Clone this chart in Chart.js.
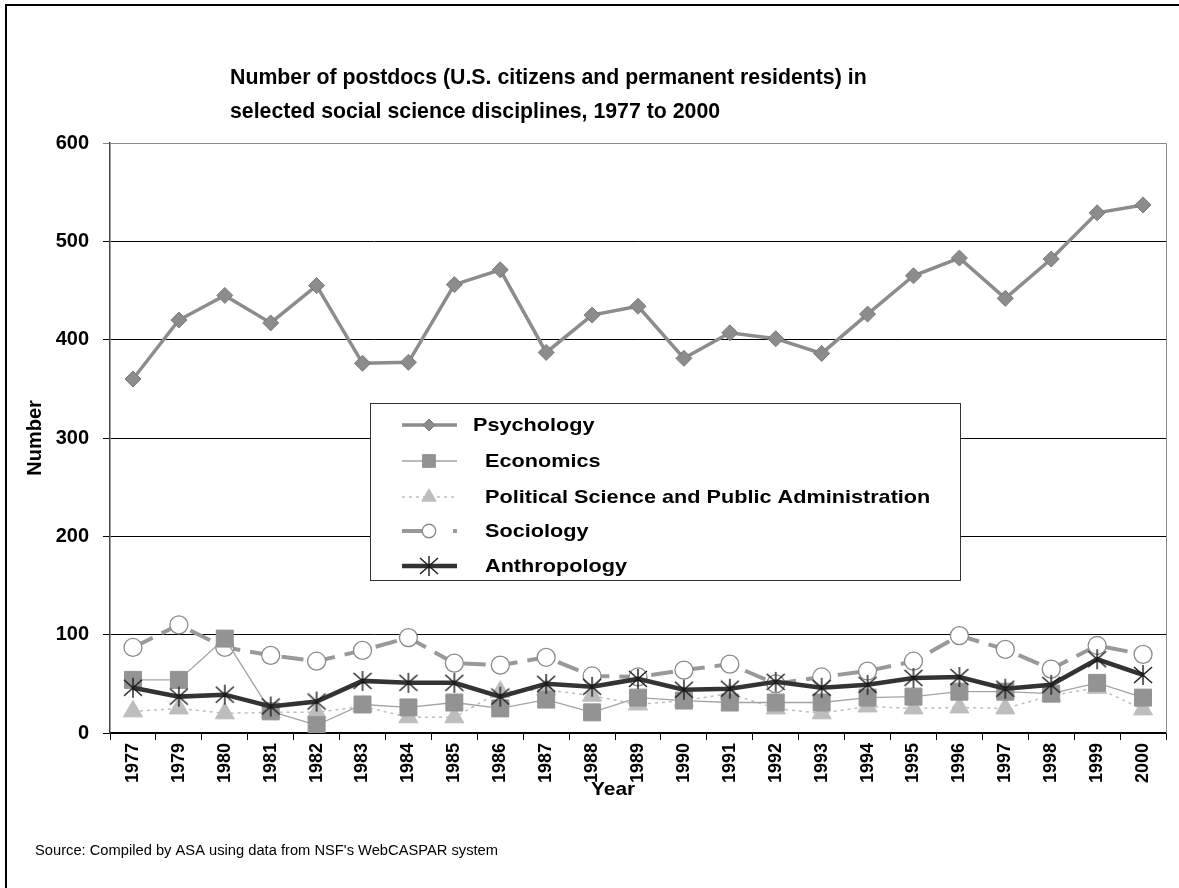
<!DOCTYPE html>
<html>
<head>
<meta charset="utf-8">
<script src="https://cdn.jsdelivr.net/npm/chart.js@4.4.0/dist/chart.umd.min.js"></script>
<style>
  body { margin: 0; background: #fff; }
  #wrap { width: 1179px; height: 888px; position: relative; }
</style>
</head>
<body>
<div id="wrap"><canvas id="chart" width="1179" height="888"></canvas></div>
<script>
// data
const years = ['1977', '1979', '1980', '1981', '1982', '1983', '1984', '1985', '1986', '1987', '1988', '1989',
               '1990', '1991', '1992', '1993', '1994', '1995', '1996', '1997', '1998', '1999', '2000'];
const psychology = [360, 420, 445, 417, 455, 376, 377, 456, 471, 387, 425, 434, 381, 407, 401, 386, 426, 465, 483, 442, 482, 529, 537];
const economics = [54, 54, 96, 22, 8, 29, 26, 31, 25, 34, 21, 36, 33, 31, 31, 31, 36, 37, 42, 42, 40, 51, 36];
const polisci = [22, 25, 20, 21, 21, 27, 16, 16, 42, 44, 38, 29, 33, 40, 25, 20, 27, 25, 26, 25, 38, 46, 24];
const sociology = [87, 110, 87, 79, 73, 84, 97, 71, 69, 77, 58, 57, 64, 70, 50, 57, 63, 73, 99, 85, 65, 89, 80];
const anthropology = [46, 37, 39, 27, 32, 53, 51, 51, 37, 50, 47, 55, 44, 45, 52, 46, 49, 56, 57, 45, 49, 75, 59];
const yTicks = [0, 100, 200, 300, 400, 500, 600];

const FONT = '"Liberation Sans", Arial, sans-serif';

// asterisk marker like the Excel one
const star = document.createElement('canvas');
star.width = 22; star.height = 22;
(function () {
    const c = star.getContext('2d');
    c.strokeStyle = '#1a1a1a';
    c.lineWidth = 1.4;
    c.beginPath();
    c.moveTo(11, 1); c.lineTo(11, 21);
    c.moveTo(2, 3); c.lineTo(20, 19);
    c.moveTo(20, 3); c.lineTo(2, 19);
    c.stroke();
})();

// text a bit wider than the font, as in the original export
function wideText(ctx, txt, x, y, sx) {
    ctx.save();
    ctx.translate(x, y);
    ctx.scale(sx, 1);
    ctx.fillText(txt, 0, 0);
    ctx.restore();
}

// title, source, axis title, outer frame and the boxed legend
const decor = {
    id: 'decor',
    afterDraw(chart) {
        const ctx = chart.ctx;
        const area = chart.chartArea;
        ctx.save();
        // frame
        ctx.strokeStyle = '#000';
        ctx.lineWidth = 2;
        ctx.strokeRect(6, 5, 1190, 900);
        // plot border (top + right, grey)
        ctx.strokeStyle = '#8a8a8a';
        ctx.lineWidth = 1;
        ctx.beginPath();
        ctx.moveTo(area.left, area.top + 0.5);
        ctx.lineTo(area.right + 0.5, area.top + 0.5);
        ctx.lineTo(area.right + 0.5, area.bottom);
        ctx.stroke();

        ctx.fillStyle = '#000';
        ctx.textAlign = 'left';
        ctx.textBaseline = 'alphabetic';
        ctx.font = 'bold 21.3px ' + FONT;
        ctx.fillText('Number of postdocs (U.S. citizens and permanent residents) in', 230, 84);
        ctx.fillText('selected social science disciplines, 1977 to 2000', 230, 118);

        ctx.font = 'bold 19px ' + FONT;
        ctx.textBaseline = 'middle';
        wideText(ctx, 'Year', 591, 790, 1.1);

        ctx.font = '14px ' + FONT;
        wideText(ctx, "Source: Compiled by ASA using data from NSF's WebCASPAR system", 35, 851, 1.05);

        // legend
        const lx = 370.5, ly = 403.5, lw = 590, lh = 177;
        ctx.fillStyle = '#fff';
        ctx.fillRect(lx, ly, lw, lh);
        ctx.strokeStyle = '#333';
        ctx.lineWidth = 1;
        ctx.strokeRect(lx, ly, lw, lh);
        const rows = [425, 461, 497, 531, 566];
        const textX = [473, 485, 485, 485, 485];
        chart.data.datasets.forEach((ds, i) => {
            const y = rows[i];
            ctx.save();
            ctx.strokeStyle = ds.borderColor;
            ctx.lineWidth = ds.borderWidth;
            ctx.setLineDash(ds.borderDash || []);
            ctx.beginPath();
            if (ds.label === 'Sociology') {
                ctx.moveTo(402, y); ctx.lineTo(425, y);
                ctx.moveTo(453, y); ctx.lineTo(457, y);
            } else {
                ctx.moveTo(402, y); ctx.lineTo(457, y);
            }
            ctx.stroke();
            ctx.restore();
            ctx.save();
            ctx.fillStyle = ds.pointBackgroundColor;
            ctx.strokeStyle = ds.pointBorderColor;
            ctx.lineWidth = ds.pointBorderWidth;
            Chart.helpers.drawPoint(ctx, {
                pointStyle: ds.pointStyle,
                radius: ds.pointRadius * 0.75,
                rotation: 0,
                borderWidth: ds.pointBorderWidth
            }, 429, y);
            ctx.restore();
            ctx.fillStyle = '#000';
            ctx.font = 'bold 19px ' + FONT;
            ctx.textBaseline = 'middle';
            wideText(ctx, ds.label, textX[i], y + 1, 1.14);
        });
        ctx.restore();
    }
};

new Chart(document.getElementById('chart'), {
    type: 'line',
    data: {
        labels: years,
        datasets: [{
            label: 'Psychology',
            data: psychology,
            borderColor: '#8c8c8c',
            borderWidth: 3.5,
            pointStyle: 'rectRot',
            pointRadius: 8,
            pointBackgroundColor: '#8c8c8c',
            pointBorderColor: '#7a7a7a',
            pointBorderWidth: 1,
            order: 4
        }, {
            label: 'Economics',
            data: economics,
            borderColor: '#a3a3a3',
            borderWidth: 1.3,
            pointStyle: 'rect',
            pointRadius: 12,
            pointBackgroundColor: '#939393',
            pointBorderColor: '#939393',
            pointBorderWidth: 1,
            order: 1
        }, {
            label: 'Political Science and Public Administration',
            data: polisci,
            borderColor: '#bdbdbd',
            borderWidth: 1.5,
            borderDash: [3, 4],
            pointStyle: 'triangle',
            pointRadius: 11,
            pointBackgroundColor: '#bdbdbd',
            pointBorderColor: '#bdbdbd',
            pointBorderWidth: 1,
            order: 2
        }, {
            label: 'Sociology',
            data: sociology,
            borderColor: '#999999',
            borderWidth: 4,
            borderDash: [22, 10],
            pointStyle: 'circle',
            pointRadius: 9,
            pointBackgroundColor: '#ffffff',
            pointBorderColor: '#8a8a8a',
            pointBorderWidth: 1.3,
            order: 3
        }, {
            label: 'Anthropology',
            data: anthropology,
            borderColor: '#333333',
            borderWidth: 4.5,
            pointStyle: star,
            pointRadius: 10,
            pointBackgroundColor: '#222',
            pointBorderColor: '#222',
            pointBorderWidth: 1,
            order: 0
        }]
    },
    options: {
        responsive: false,
        animation: false,
        events: [],
        layout: { padding: { top: 143, right: 10, bottom: 75, left: 0 } },
        plugins: {
            legend: { display: false },
            title: { display: false },
            tooltip: { enabled: false }
        },
        elements: { line: { tension: 0 } },
        scales: {
            x: {
                offset: true,
                grid: { offset: true, drawOnChartArea: false, tickLength: 7, color: '#000' },
                border: { color: '#000', width: 1.5 },
                ticks: {
                    minRotation: 90, maxRotation: 90, autoSkip: false, padding: 3,
                    color: '#000', font: { family: FONT, size: 18, weight: 'bold' }
                },
                afterFit(scale) {
                    scale.height = 80;
                    scale.paddingLeft = 0;
                    scale.paddingRight = 0;
                }
            },
            y: {
                min: 0, max: 600,
                afterBuildTicks(scale) { scale.ticks = yTicks.map(v => ({ value: v })); },
                grid: {
                    color: ctx => (ctx.tick && ctx.tick.value === 600 ? '#8a8a8a' : '#000'),
                    lineWidth: 1, tickLength: 7
                },
                border: { color: '#444', width: 1.5 },
                ticks: {
                    padding: 14, color: '#000',
                    font: { family: FONT, size: 20, weight: 'bold' }
                },
                title: {
                    display: true, text: 'Number', color: '#000',
                    font: { family: FONT, size: 20, weight: 'bold' },
                    padding: { top: 23, bottom: 0 }
                },
                afterFit(scale) { scale.width = 110; }
            }
        }
    },
    plugins: [decor]
});
</script>
</body>
</html>
